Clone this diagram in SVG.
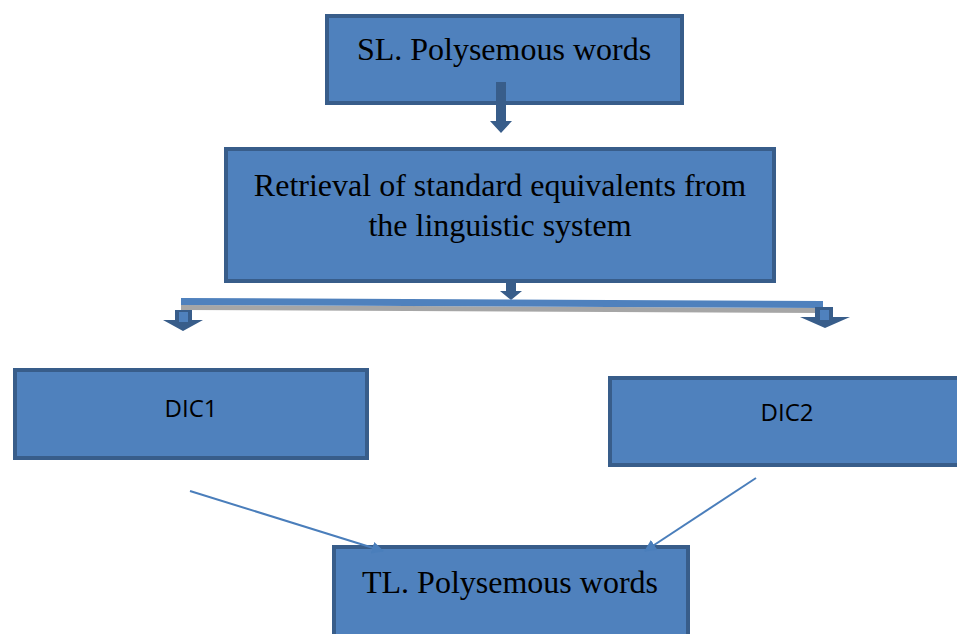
<svg xmlns="http://www.w3.org/2000/svg" width="957" height="634" viewBox="0 0 957 634">
<style>
.box{fill:#4f81bd;stroke:#385d8a;stroke-width:4}
.serif{font-family:"Liberation Serif","Times New Roman",serif;font-size:32px;fill:#000;text-anchor:middle}
.sans{font-family:"Open Sans","Liberation Sans",Arial,sans-serif;font-size:24px;fill:#000;text-anchor:middle}
.blk{fill:#385d8a}
.conn{stroke:#4a7ebb;stroke-width:2;fill:none}
</style>
<defs>
<marker id="ah" markerWidth="14" markerHeight="12" refX="11" refY="6" orient="auto" markerUnits="userSpaceOnUse" viewBox="0 0 14 12">
<path d="M0,0 L12,6 L0,12 z" fill="#4a7ebb"/>
</marker>
</defs>
<rect width="957" height="634" fill="#fff"/>
<g id="node-sl">
<rect class="box" x="327" y="16" width="355" height="87"/>
<text class="serif" x="504" y="60">SL. Polysemous words</text>
</g>
<g id="node-retrieval">
<rect class="box" x="226" y="149" width="548" height="132"/>
<text class="serif" x="500" y="196">Retrieval of standard equivalents from</text>
<text class="serif" x="500" y="236">the linguistic system</text>
</g>
<g id="node-dic1">
<rect class="box" x="15" y="370" width="352" height="88"/>
<text class="sans" x="191" y="417">DIC1</text>
</g>
<g id="node-dic2">
<rect class="box" x="610" y="378" width="351" height="87"/>
<text class="sans" x="787" y="421">DIC2</text>
</g>
<g id="node-tl">
<rect class="box" x="334" y="547" width="354" height="92"/>
<text class="serif" x="510" y="593">TL. Polysemous words</text>
</g>
<g id="connectors">
<path class="blk" d="M496,82 H506 V121 H512 L501,133 L490,121 H496 Z"/>
<path class="blk" d="M506,283 H516 V291 H522 L511,300 L500,291 H506 Z"/>
<polygon points="181,305 823,308 823,313 181,310" fill="#a6a6a6"/>
<polygon points="181,298 823,301 823,308 181,305" fill="#4f81bd"/>
<path class="blk" d="M175,310 H192 V320 H203 L183,331 L163,320 H175 Z"/>
<rect x="179" y="312" width="9" height="10" fill="#4f81bd"/>
<path class="blk" d="M815,307 H833 V317 H850 L825,328 L800,317 H815 Z"/>
<rect x="820" y="310" width="9" height="10" fill="#4f81bd"/>
<line class="conn" x1="190" y1="491" x2="383" y2="551" marker-end="url(#ah)"/>
<line class="conn" x1="756" y1="478" x2="645" y2="551" marker-end="url(#ah)"/>
</g>
</svg>
